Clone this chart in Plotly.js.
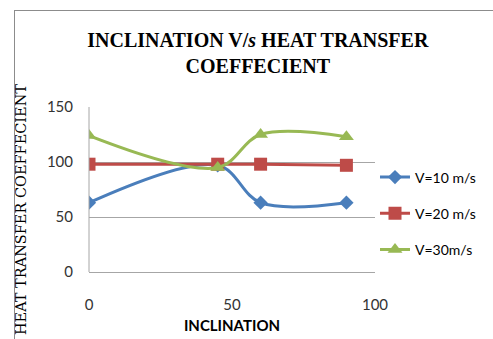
<!DOCTYPE html>
<html><head><meta charset="utf-8">
<script src="https://cdn.plot.ly/plotly-3.0.1.min.js"></script>
<style>
html,body{margin:0;padding:0;background:#fff;}
#wrap{position:relative;width:493px;height:339px;overflow:hidden;}
#chart{position:absolute;left:0;top:0;width:493px;height:339px;}
#frame{position:absolute;left:14px;top:10px;width:490px;height:340px;border-left:1.5px solid #8c8c8c;border-top:1.5px solid #8c8c8c;pointer-events:none;}
</style></head>
<body><div id="wrap"><div id="chart"></div><div id="frame"></div></div>
<script>
const inclination = [0, 45, 60, 90];
const v10 = [63, 97, 63, 63];
const v20 = [98, 98, 98, 97];
const v30 = [124, 95, 125, 123];
const seriesNames = ['V=10 m/s', 'V=20 m/s', 'V=30m/s'];
const xTicks = [0, 50, 100];
const yTicks = [0, 50, 100, 150];

const colors = ['#4A7EBB', '#BE4B48', '#98B954'];
const symbols = ['diamond', 'square', 'triangle-up'];
const sizes = [11, 13, 13];
const data = [v10, v20, v30].map((ys, i) => ({
  x: inclination, y: ys, name: seriesNames[i], legendgroup: 'g' + i, type: 'scatter', mode: 'lines+markers',
  line: {color: colors[i], width: 3, shape: 'spline', smoothing: 1},
  marker: {symbol: symbols[i], size: sizes[i], color: colors[i]}
}));

const layout = {
  width: 493, height: 339,
  margin: {l: 89, r: 113, t: 107, b: 67},
  paper_bgcolor: '#fff', plot_bgcolor: '#fff',
  showlegend: true,
  title: {text: 'INCLINATION V/<i>s</i> HEAT TRANSFER<br>COEFFECIENT', x: 0.523, xanchor: 'center', y: 0.861, yanchor: 'top',
          font: {family: 'Liberation Serif', size: 20, color: '#000', weight: 'bold'}},
  legend: {x: 1.0, xanchor: 'left', y: 0.67, yanchor: 'top', tracegroupgap: 15,
           font: {family: 'Lato', size: 14, color: '#000'}, itemwidth: 30, bgcolor: 'rgba(0,0,0,0)'},
  xaxis: {range: [0, 100], tickvals: xTicks, showgrid: false, zeroline: false, showline: false,
          ticks: '', ticklabelstandoff: 22, tickfont: {family: 'Lato', size: 15, color: '#333'},
          title: {text: 'INCLINATION', standoff: 8, font: {family: 'Lato', size: 15, color: '#000', weight: 'bold'}}},
  yaxis: {range: [0, 150], tickvals: yTicks, showgrid: true, gridcolor: '#a6a6a6', gridwidth: 1,
          zeroline: true, zerolinecolor: '#a6a6a6', showline: false, ticks: '', ticklabelstandoff: 15,
          tickfont: {family: 'Lato', size: 15, color: '#333'}, title: {text: ''}},
  shapes: [{type: 'line', xref: 'paper', yref: 'paper', x0: 0, x1: 0, y0: 0, y1: 1, line: {color: '#a6a6a6', width: 1}}],
  annotations: [{text: 'HEAT TRANSFER COEFFECIENT', xref: 'paper', yref: 'paper', x: -0.235, y: 0.38,
                 xanchor: 'center', yanchor: 'middle', textangle: -90, showarrow: false,
                 font: {family: 'DejaVu Serif', size: 14.5, color: '#000'}}]
};
Plotly.newPlot('chart', data, layout, {displayModeBar: false, staticPlot: true});
</script></body></html>
